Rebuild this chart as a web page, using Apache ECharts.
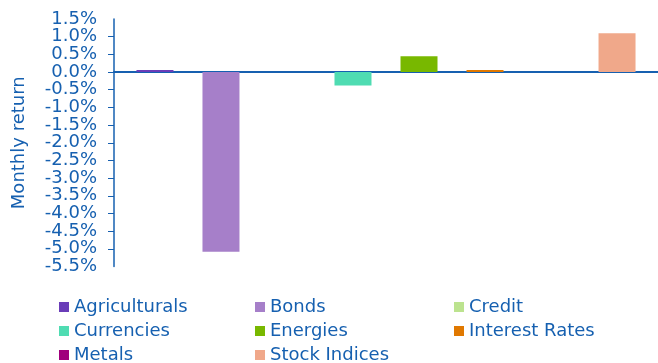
<!DOCTYPE html>
<html>
<head>
<meta charset="utf-8">
<script src="https://cdn.jsdelivr.net/npm/echarts@6/dist/echarts.min.js"></script>
<style>html,body{margin:0;padding:0;background:#fff;}#c{width:658px;height:363px;}</style>
</head>
<body>
<div id="c"></div>
<script>
const seriesNames = ['Agriculturals','Bonds','Credit','Currencies','Energies','Interest Rates','Metals','Stock Indices'];
const seriesValues = [0.06, -5.08, 0.0, -0.38, 0.45, 0.06, 0.0, 1.10];
const seriesColors = ['#6a3db8','#a67fc9','#bce38f','#4fdcb2','#78b800','#e07800','#a0007c','#f0a88a'];
const categories = [''];
const yMin = -5.5, yMax = 1.5, yStep = 0.5;
// legend grid: 3 columns, rows
const legendCols = [59, 255, 454];
const legendRows = [298, 322, 346];

const textColor = '#1660b0';
const font = 'DejaVu Sans';
const labelStyle = {
  color: textColor, fontFamily: font, fontSize: 18, margin: 17,
  formatter: v => v.toFixed(1) + '%'
};

const chart = echarts.init(document.getElementById('c'), null, {renderer: 'canvas'});
const option = {
  animation: false,
  backgroundColor: '#fff',
  grid: {left: 114, width: 552, top: 19, height: 247.5},
  xAxis: {
    type: 'category',
    data: categories,
    axisLine: {onZero: true, lineStyle: {color: textColor, width: 2}},
    axisTick: {show: false},
    axisLabel: {show: false},
    splitLine: {show: false}
  },
  yAxis: [{
    type: 'value',
    position: 'left',
    min: yMin, max: yMax, interval: yStep,
    name: 'Monthly return',
    nameLocation: 'middle',
    nameGap: 86,
    nameTextStyle: {color: textColor, fontFamily: font, fontSize: 18},
    axisLine: {show: true, lineStyle: {color: textColor, width: 1.5}},
    axisTick: {show: true, length: 6, lineStyle: {color: textColor}},
    splitLine: {show: false},
    axisLabel: Object.assign({showMinLabel: false, showMaxLabel: false}, labelStyle)
  }, {
    type: 'value',
    position: 'left',
    offset: 0,
    min: yMin, max: yMax, interval: yMax - yMin,
    axisLine: {show: false},
    axisTick: {show: false},
    splitLine: {show: false},
    axisLabel: Object.assign({showMinLabel: true, showMaxLabel: true}, labelStyle)
  }],
  legend: seriesNames.map((name, i) => ({
    orient: 'horizontal',
    left: legendCols[i % 3],
    top: legendRows[Math.floor(i / 3)],
    data: [name],
    itemWidth: 10, itemHeight: 10,
    icon: 'rect',
    selectedMode: false,
    padding: 0,
    textStyle: {color: textColor, fontFamily: font, fontSize: 18, lineHeight: 18}
  })),
  series: seriesNames.map((name, i) => ({
    name: name,
    type: 'bar',
    yAxisIndex: 0,
    data: [seriesValues[i]],
    barWidth: 37,
    barGap: '78.4%',
    itemStyle: {color: seriesColors[i]}
  }))
};
chart.setOption(option);
</script>
</body>
</html>
